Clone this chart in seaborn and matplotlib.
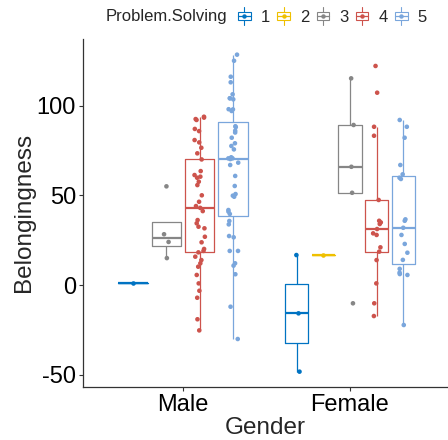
import numpy as np
import pandas as pd
import matplotlib
matplotlib.use("Agg")
import matplotlib.pyplot as plt
import seaborn as sns
from matplotlib.patches import Rectangle
from matplotlib.lines import Line2D
from matplotlib.legend_handler import HandlerBase

# ---------------- data ----------------
genders = ["Male", "Female"]
levels = ["1", "2", "3", "4", "5"]
colors = ["#0073C2", "#EFC000", "#868686", "#CD534C", "#7AA6DC"]

male_ps1 = [1.0]
male_ps3 = [15.0, 24.0, 28.3, 55.0]
male_ps4 = [93.8, 93.3, 92.5, 92.0, 87.0, 85.8, 80.8, 79.5, 76.5, 73.4,
            70.0, 63.5, 61.3, 60.4, 59.8, 57.6, 55.7, 50.0, 46.4, 44.0,
            43.0, 41.2, 36.2, 34.4, 32.5, 31.6, 26.9, 23.8, 20.1, 19.0,
            18.2, 15.8, 13.9, 12.1, 10.2, 5.6, 0.9, -3.2, -7.1, -19.1, -25.3]
male_ps5 = [128.4, 125.0, 116.1, 113.0, 106.3, 104.1, 104.1, 103.5, 98.0, 97.9,
            97.0, 88.5, 88.0, 86.0, 85.0, 82.1, 79.0, 77.5, 75.6, 71.2,
            70.6, 70.6, 70.2, 68.2, 66.9, 60.8, 55.2, 50.7, 49.8, 49.2,
            41.8, 40.9, 39.6, 35.7, 33.8, 27.3, 26.6, 19.0, 19.0, 12.1,
            10.8, 6.0, -12.1, -30.1]
female_ps1 = [-48.3, -15.8, 16.7]
female_ps2 = [16.7]
female_ps3 = [-10.2, 51.4, 65.9, 89.2, 115.2]
female_ps4 = [122.1, 107.2, 88.2, 83.2, 47.4, 35.8, 34.9, 34.0, 31.2, 28.8,
              27.9, 21.0, 18.6, 13.9, 0.9, -10.2, -17.3]
female_ps5 = [92.0, 88.2, 82.1, 66.9, 61.7, 59.8, 59.1, 36.6, 35.8, 31.9,
              27.9, 22.9, 18.0, 14.0, 9.0, 6.9, 6.1, 5.6, -22.3]

groups = {
    ("Male", "1"): male_ps1, ("Male", "3"): male_ps3,
    ("Male", "4"): male_ps4, ("Male", "5"): male_ps5,
    ("Female", "1"): female_ps1, ("Female", "2"): female_ps2,
    ("Female", "3"): female_ps3, ("Female", "4"): female_ps4,
    ("Female", "5"): female_ps5,
}
rows = []
for (g, lv), vals in groups.items():
    for v in vals:
        rows.append({"Gender": g, "Problem.Solving": lv, "Belongingness": v})
df = pd.DataFrame(rows)
palette = dict(zip(levels, colors))

# ---------------- plot ----------------
sns.set_theme(style="ticks")
plt.rcParams["font.family"] = ["Liberation Sans", "DejaVu Sans"]
np.random.seed(3)

W, H = 448, 440
fig = plt.figure(figsize=(W / 100, H / 100), dpi=100)
ax_l, ax_r, ax_t, ax_b = 83, 448, 38.7, 386.9
ax = fig.add_axes([ax_l / W, 1 - ax_b / H, (ax_r - ax_l) / W, (ax_b - ax_t) / H])

for g in genders:
    sub = df[df["Gender"] == g]
    present = [lv for lv in levels if (sub["Problem.Solving"] == lv).any()]
    sns.boxplot(data=sub, x="Gender", y="Belongingness", hue="Problem.Solving",
                order=genders, hue_order=present, palette=palette, fill=False,
                width=0.8, gap=0.12, linewidth=0.9, showcaps=False,
                fliersize=0, medianprops={"linewidth": 1.6},
                legend=False, ax=ax)
    sns.stripplot(data=sub, x="Gender", y="Belongingness", hue="Problem.Solving",
                  order=genders, hue_order=present, palette=palette, dodge=True,
                  jitter=0.13, size=3.3, linewidth=0, legend=False, zorder=5, ax=ax)

ax.set_xlim(-0.599, 1.587)
ax.set_ylim(-56.8, 137.3)
ax.set_yticks([-50, 0, 50, 100])
ax.set_yticklabels(["-50", "0", "50", "100"])
sns.despine(ax=ax)
for s in ["left", "bottom"]:
    ax.spines[s].set_linewidth(0.9)
    ax.spines[s].set_color("#333333")
ax.tick_params(axis="both", labelsize=17, length=3, width=0.8, pad=2,
               colors="#333333", labelcolor="black")
ax.set_xlabel("Gender", fontsize=17.5, labelpad=1)
ax.set_ylabel("Belongingness", fontsize=17.5, labelpad=1.5)
ax.grid(False)


class BoxHandler(HandlerBase):
    def create_artists(self, legend, orig_handle, xdescent, ydescent,
                       width, height, fontsize, trans):
        c = orig_handle.get_edgecolor()
        x0, y0 = -xdescent, -ydescent
        cx = x0 + width / 2
        arts = [
            Line2D([cx, cx], [y0 - 0.15 * height, y0 + 0.2 * height], color=c, lw=0.8),
            Line2D([cx, cx], [y0 + 0.8 * height, y0 + 1.15 * height], color=c, lw=0.8),
            Rectangle((x0, y0 + 0.2 * height), width, 0.6 * height,
                      fc="white", ec=c, lw=0.8),
            Line2D([x0, x0 + width], [y0 + 0.5 * height] * 2, color=c, lw=0.9),
            Line2D([cx], [y0 + 0.5 * height], marker="o", ms=2.2, color=c, lw=0),
        ]
        for a in arts:
            a.set_transform(trans)
        return arts


handles = [Rectangle((0, 0), 1, 1, fc="white", ec=c) for c in colors]
fig.text(106 / W, 1 - 17 / H, "Problem.Solving", ha="left", va="center", fontsize=12)
fig.legend(handles, levels, loc="center left", bbox_to_anchor=(238 / W, 1 - 17 / H),
           ncol=5, frameon=False, fontsize=12, handlelength=0.75, handleheight=0.85,
           handletextpad=0.6, columnspacing=0.45, borderpad=0, borderaxespad=0,
           handler_map={Rectangle: BoxHandler()})

fig.savefig("out.png", dpi=100)
